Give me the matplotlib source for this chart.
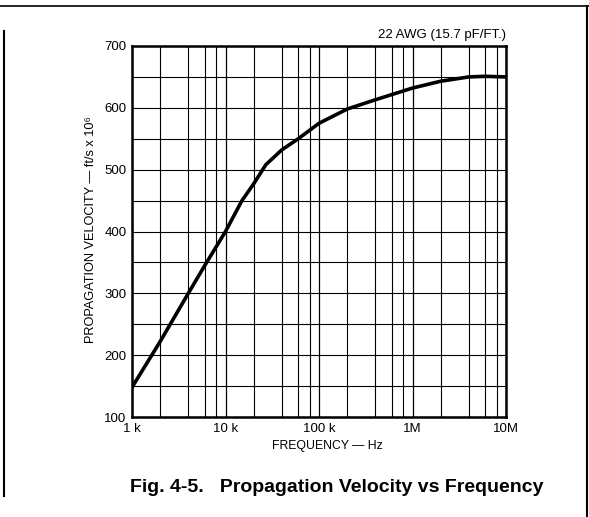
import matplotlib
matplotlib.use("Agg")
import matplotlib.pyplot as plt
from matplotlib.lines import Line2D
import numpy as np

plt.rcParams['font.family'] = ['Liberation Sans', 'DejaVu Sans']

# Data
freq_hz = [1e3, 2e3, 4e3, 6e3, 1e4, 1.5e4, 2e4, 2.7e4, 4e4, 6e4, 1e5, 2e5, 4e5, 1e6, 2e6, 4e6, 6e6, 1e7]
velocity = [148, 222, 300, 345, 400, 450, 477, 508, 532, 550, 575, 598, 613, 632, 643, 650, 651, 650]

y_ticks = [100, 200, 300, 400, 500, 600, 700]
x_ticks = [1e3, 1e4, 1e5, 1e6, 1e7]
x_tick_labels = ['1 k', '10 k', '100 k', '1M', '10M']
minor_mult = [2, 4, 6, 8]

fig = plt.figure(figsize=(5.89, 5.17), dpi=100)
ax = fig.add_axes([132/589, 1-417/517, 374/589, 371/517])
ax.set_xscale('log')
ax.set_xlim(1e3, 1e7)
ax.set_ylim(100, 700)

# grid
for d in x_ticks:
    ax.axvline(d, color='black', lw=0.9, zorder=1)
    for m in minor_mult:
        if d * m < 1e7:
            ax.axvline(d * m, color='black', lw=0.8, zorder=1)
for yv in np.arange(100, 701, 50):
    ax.axhline(yv, color='black', lw=0.8, zorder=1)

ax.plot(freq_hz, velocity, color='black', lw=2.6, zorder=3, solid_capstyle='butt')

ax.set_xticks(x_ticks)
ax.set_xticklabels(x_tick_labels)
ax.set_xticks([], minor=True)
ax.set_yticks(y_ticks)
ax.tick_params(axis='both', length=0, labelsize=9.5, pad=4)
for s in ax.spines.values():
    s.set_linewidth(1.8)

fig.text(91/589, 1-230/517, 'PROPAGATION VELOCITY — ft/s x 10⁶', rotation=90,
         ha='center', va='center', fontsize=9.2)
fig.text(327/589, 1-446/517, 'FREQUENCY — Hz', ha='center', va='center', fontsize=8.8)
fig.text(506/589, 1-35/517, '22 AWG (15.7 pF/FT.)', ha='right', va='center', fontsize=9.5)
fig.text(337/589, 1-487/517, 'Fig. 4-5.   Propagation Velocity vs Frequency',
         ha='center', va='center', fontsize=14, fontweight='bold')

# page border lines
fig.add_artist(Line2D([0, 1], [1-6/517, 1-6/517], transform=fig.transFigure, color='black', lw=1.2))
fig.add_artist(Line2D([4/589, 4/589], [1-31/517, 1-496/517], transform=fig.transFigure, color='black', lw=1.5))
fig.add_artist(Line2D([587/589, 587/589], [1-6/517, 0], transform=fig.transFigure, color='black', lw=1.5))

fig.savefig('out.png', dpi=100)
